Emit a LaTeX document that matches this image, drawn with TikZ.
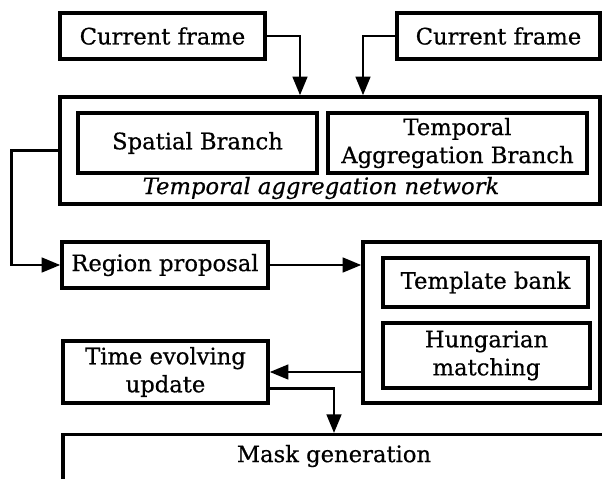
\documentclass[tikz,border=0pt]{standalone}
\usepackage{fontspec}
\setmainfont{DejaVu Serif}[FakeBold=0.6]
\usetikzlibrary{arrows.meta}
\newcommand{\drawarrow}{\draw[line width=2pt,-{Triangle[length=14pt,width=11pt]}]}
\tikzset{
  boxtext/.style={font=\fontsize{17}{21}\selectfont},
  block/.style={boxtext,draw,line width=2.6pt,inner sep=2pt,align=center},
}

\begin{document}
\begin{tikzpicture}[x=0.75pt,y=-0.75pt]
\useasboundingbox (0,0) rectangle (602,478);
\clip (0,0) rectangle (602,478);
% inputs
\node[block,minimum width=153.75pt,minimum height=34.5pt] (cf1) at (162.5,36) {Current frame};
\node[block,minimum width=152.25pt,minimum height=34.5pt] (cf2) at (498.5,36) {Current frame};
% temporal aggregation network
\node[block,minimum width=405pt,minimum height=80.25pt] (tan) at (330,150.5) {};
\node[block,minimum width=179.25pt,minimum height=45pt] (spatial) at (197.5,143) {Spatial Branch};
\node[block,minimum width=194.25pt,minimum height=45pt] (tab) at (457.5,143) {Temporal\\Aggregation Branch};
\node[boxtext,font=\fontsize{17}{21}\selectfont\itshape] (tanlabel) at (321,188) {Temporal aggregation network};
% proposals and matching
\node[block,minimum width=154.5pt,minimum height=34.5pt] (region) at (165,265) {Region proposal};
\node[block,minimum width=177.75pt,minimum height=120.75pt] (match) at (481.5,322.5) {};
\node[block,minimum width=153.75pt,minimum height=36.75pt] (bank) at (485.5,282.5) {Template bank};
\node[block,minimum width=155.25pt,minimum height=48.75pt] (hungarian) at (486.5,355.5) {Hungarian\\matching};
\node[block,minimum width=153.75pt,minimum height=46.5pt] (update) at (165.5,372) {Time evolving\\update};
% output
\node[block,minimum width=406.5pt,minimum height=55.5pt,anchor=north] (mask) at (334,433) {};
\node[boxtext] (masktext) at (334,456) {Mask generation};
\coordinate (in1) at (300,0);
\coordinate (in2) at (363,0);
\drawarrow (cf1.east) -| (in1 |- tan.north);
\drawarrow (cf2.west) -| (in2 |- tan.north);
\drawarrow (tan.west) -- ++(-46.5,0) |- (region.west);
\drawarrow (region.east) -- (region.east -| match.west);
\drawarrow (update.east -| match.west) -- (update.east);
\drawarrow ([yshift=12.4pt]update.south east) -| (mask.north);
\end{tikzpicture}
\end{document}
